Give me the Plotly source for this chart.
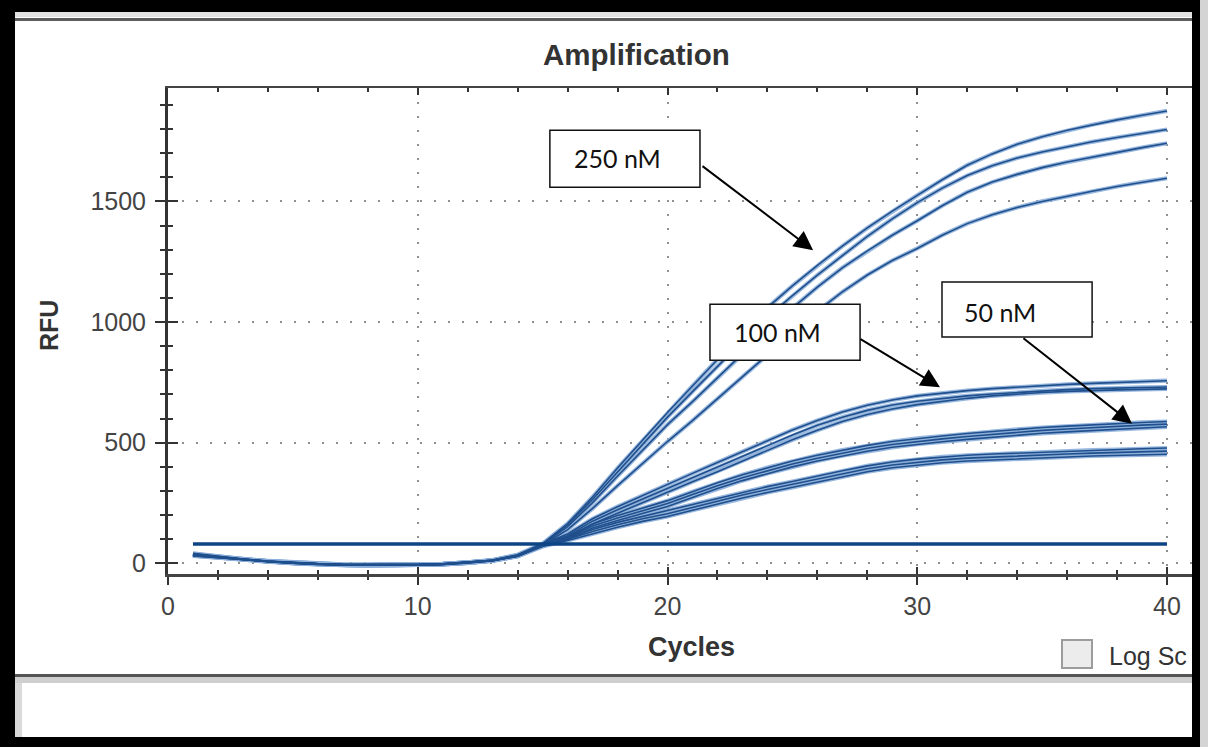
import plotly.graph_objects as go

# ---------------- data ----------------
cycles = list(range(1, 41))

rfu_250nM = [
    [38, 27, 17, 9, 3, -2, -5, -6, -6, -5, -2, 4, 14, 36, 82, 165, 275, 395, 510, 625,
     735, 845, 955, 1060, 1150, 1235, 1315, 1390, 1460, 1525, 1590, 1650, 1697, 1737, 1768, 1795, 1818, 1838, 1857, 1875],
    [35, 25, 15, 8, 2, -3, -6, -7, -7, -6, -3, 3, 13, 34, 80, 160, 265, 380, 494, 606,
     712, 818, 920, 1020, 1110, 1195, 1275, 1355, 1428, 1495, 1555, 1607, 1648, 1680, 1705, 1727, 1747, 1765, 1782, 1798],
    [42, 29, 18, 10, 4, -1, -4, -5, -5, -4, -2, 4, 13, 33, 78, 152, 252, 362, 470, 575,
     670, 770, 868, 965, 1058, 1145, 1225, 1295, 1360, 1420, 1482, 1538, 1580, 1612, 1640, 1663, 1684, 1705, 1723, 1741],
    [32, 24, 14, 7, 1, -4, -7, -8, -8, -7, -4, 2, 11, 30, 75, 140, 228, 322, 414, 505,
     592, 683, 775, 866, 955, 1045, 1125, 1195, 1255, 1305, 1360, 1408, 1445, 1475, 1500, 1522, 1542, 1562, 1580, 1596],
]
rfu_100nM = [
    [36, 26, 16, 8, 2, -3, -6, -7, -7, -6, -3, 3, 12, 33, 80, 122, 185, 235, 282, 328,
     373, 418, 462, 508, 553, 592, 627, 655, 677, 694, 706, 716, 724, 731, 737, 742, 746, 750, 754, 757],
    [40, 28, 17, 9, 3, -2, -5, -6, -6, -5, -2, 4, 13, 33, 78, 115, 175, 222, 266, 310,
     354, 398, 442, 488, 532, 572, 606, 634, 656, 672, 684, 694, 702, 709, 715, 720, 724, 727, 729, 731],
    [34, 24, 15, 7, 1, -4, -7, -8, -8, -7, -4, 2, 11, 31, 76, 108, 163, 208, 252, 295,
     338, 380, 424, 468, 512, 552, 588, 617, 640, 658, 672, 684, 694, 702, 708, 713, 717, 719, 721, 723],
]
rfu_50nM = [
    [37, 26, 16, 8, 2, -3, -6, -7, -7, -6, -3, 3, 12, 32, 78, 112, 163, 198, 229, 260,
     297, 334, 367, 397, 424, 448, 470, 489, 505, 518, 528, 538, 547, 555, 563, 569, 575, 580, 584, 588],
    [33, 24, 14, 7, 1, -4, -7, -8, -8, -7, -4, 2, 11, 30, 75, 105, 155, 188, 218, 248,
     285, 322, 355, 385, 412, 436, 458, 477, 493, 506, 516, 526, 535, 543, 551, 557, 563, 568, 573, 577],
    [39, 27, 17, 9, 3, -2, -5, -6, -6, -5, -2, 4, 13, 33, 73, 99, 147, 178, 207, 236,
     273, 310, 343, 373, 400, 424, 446, 465, 481, 494, 504, 514, 523, 531, 539, 545, 551, 556, 561, 566],
]
rfu_low = [
    [35, 25, 15, 8, 2, -3, -6, -7, -7, -6, -3, 3, 12, 32, 74, 105, 140, 170, 195, 217,
     244, 270, 295, 318, 339, 362, 384, 404, 420, 432, 441, 448, 453, 457, 461, 465, 469, 472, 475, 478],
    [38, 27, 16, 8, 2, -3, -6, -7, -7, -6, -3, 3, 12, 31, 72, 100, 132, 160, 185, 206,
     232, 258, 283, 306, 327, 350, 372, 392, 408, 420, 429, 436, 441, 445, 449, 453, 457, 460, 463, 465],
    [31, 23, 14, 7, 1, -4, -7, -8, -8, -7, -4, 2, 11, 30, 70, 95, 124, 150, 174, 194,
     220, 246, 271, 294, 315, 338, 360, 380, 396, 408, 417, 424, 429, 433, 437, 441, 445, 448, 450, 452],
]
threshold_rfu = 80

x_ticks = [0, 10, 20, 30, 40]
y_ticks = [0, 500, 1000, 1500]

labels = [
    # text, box (x0, x1, y0, y1), text x, text y, arrow from (ax, ay), arrow to (x, y)
    ("250 nM", (15.29, 21.30, 1559, 1795), 16.18, 1679, (21.34, 1651), (25.83, 1298)),
    ("100 nM", (21.70, 27.71, 842, 1074), 22.58, 958, (27.67, 933), (30.91, 730)),
    ("50 nM", (30.99, 37.00, 938, 1166), 31.79, 1041, (34.19, 938), (38.60, 579)),
]

# ---------------- geometry helpers (pixel -> paper) ----------------
W, H = 1208, 747
L, R, T, B = 168, 1192, 88, 574
def PX(px):
    return (px - L) / (R - L)
def PY(py):
    return (B - py) / (B - T)

fig = go.Figure()

halo = "rgba(140,175,218,0.9)"
core = "#1f4f8c"
for group in (rfu_250nM, rfu_100nM, rfu_50nM, rfu_low):
    for ys in group:
        fig.add_trace(go.Scatter(x=cycles, y=ys, mode="lines",
                                 line=dict(color=halo, width=4.2), hoverinfo="skip"))
for group in (rfu_250nM, rfu_100nM, rfu_50nM, rfu_low):
    for ys in group:
        fig.add_trace(go.Scatter(x=cycles, y=ys, mode="lines",
                                 line=dict(color=core, width=1.6)))

fig.add_trace(go.Scatter(x=[cycles[0], cycles[-1]], y=[threshold_rfu, threshold_rfu],
                         mode="lines", line=dict(color="#0d4486", width=3.5)))

grid = dict(showgrid=True, gridcolor="#8f8f8f", gridwidth=2, griddash="2px,12px")
axis_font = dict(family="Liberation Sans, Arial, sans-serif", size=25, color="#444444")

fig.update_layout(
    width=W, height=H,
    margin=dict(l=L, r=W - R, t=T, b=H - B),
    paper_bgcolor="white", plot_bgcolor="white",
    showlegend=False,
    xaxis=dict(range=[0, 41.0], tickvals=x_ticks, ticks="outside", ticklen=8, tickwidth=2,
               tickcolor="#333", showline=True, linecolor="#444", linewidth=3,
               zeroline=False, tickfont=axis_font, ticklabelstandoff=0,
               minor=dict(dtick=2, ticks="outside", ticklen=3, tickwidth=2, tickcolor="#333", showgrid=False),
               **grid),
    xaxis2=dict(range=[0, 41.0], overlaying="x", anchor="y", side="bottom",
                tickvals=x_ticks, ticks="inside", ticklen=7, tickwidth=2, tickcolor="#333",
                showticklabels=False, showline=True, linecolor="#444", linewidth=2,
                mirror="ticks", showgrid=False, zeroline=False,
                minor=dict(dtick=2, ticks="inside", ticklen=4, tickwidth=2, tickcolor="#333", showgrid=False)),
    yaxis=dict(range=[-44, 1970], tickvals=y_ticks, ticks="outside", ticklen=10, tickwidth=2,
               tickcolor="#333", showline=True, linecolor="#333", linewidth=3,
               zeroline=False, tickfont=axis_font, ticklabelstandoff=4,
               minor=dict(dtick=100, ticks="outside", ticklen=5, tickwidth=2, tickcolor="#333", showgrid=False),
               **grid),
    yaxis2=dict(range=[-44, 1970], overlaying="y", anchor="x", side="left",
                tickvals=y_ticks, ticks="inside", ticklen=10, tickwidth=2, tickcolor="#333",
                showticklabels=False, showline=False, showgrid=False, zeroline=False,
                minor=dict(dtick=100, ticks="inside", ticklen=5, tickwidth=2, tickcolor="#333", showgrid=False)),
)
# dummy trace to activate overlay axes
fig.add_trace(go.Scatter(x=[None], y=[None], xaxis="x2", yaxis="y2", showlegend=False))

shapes = []
annos = []

# label boxes and arrows
for text, (bx0, bx1, by0, by1), tx, ty, (ax, ay), (hx, hy) in labels:
    shapes.append(dict(type="rect", xref="x", yref="y", x0=bx0, x1=bx1, y0=by0, y1=by1,
                       line=dict(color="#111", width=1.5), fillcolor="white", layer="above"))
    annos.append(dict(text=text, x=tx, y=ty, xref="x", yref="y", xanchor="left", yanchor="middle",
                      showarrow=False, font=dict(family="Lato, Carlito, sans-serif", size=25, color="#111")))
    annos.append(dict(text="", x=hx, y=hy, ax=ax, ay=ay, xref="x", yref="y", axref="x", ayref="y",
                      showarrow=True, arrowhead=2, arrowsize=1.9, arrowwidth=2, arrowcolor="#000",
                      standoff=0, startstandoff=0))

# window frame
def prect(x0, x1, y0, y1, color, layer="above", line=None):
    d = dict(type="rect", xref="paper", yref="paper", x0=PX(x0), x1=PX(x1), y0=PY(y1), y1=PY(y0),
             fillcolor=color, line=dict(width=0), layer=layer)
    if line:
        d["line"] = line
    shapes.append(d)

prect(15, 1192, 12, 17, "#e2e2e2")
prect(15, 1192, 18, 21, "#5c5c5c")
prect(15, 1192, 674, 677, "#555555")
prect(15, 1192, 677, 683, "#cfcfcf")
prect(15, 1192, 683, 737, "#ffffff")
prect(15, 22, 683, 737, "#dadada")
prect(0, 15, 0, 747, "#000000")
prect(0, 1208, 0, 12, "#000000")
prect(1192, 1200, 0, 747, "#000000")
prect(1200, 1208, 0, 747, "#d4d4d4")
prect(0, 1200, 737, 747, "#000000")
# log-scale checkbox
shapes.append(dict(type="rect", xref="paper", yref="paper", x0=PX(1062), x1=PX(1092), y0=PY(668), y1=PY(640),
                   fillcolor="#ececec", line=dict(color="#9c9c9c", width=2), layer="above"))

txt = "#333333"
annos += [
    dict(text="<b>Amplification</b>", x=PX(636), y=PY(55), xref="paper", yref="paper",
         showarrow=False, xanchor="center", yanchor="middle",
         font=dict(family="Liberation Sans, Arial, sans-serif", size=29.5, color=txt)),
    dict(text="<b>RFU</b>", x=PX(49), y=PY(326), xref="paper", yref="paper", textangle=-90,
         showarrow=False, xanchor="center", yanchor="middle",
         font=dict(family="Liberation Sans, Arial, sans-serif", size=25, color=txt)),
    dict(text="<b>Cycles</b>", x=PX(691), y=PY(647), xref="paper", yref="paper",
         showarrow=False, xanchor="center", yanchor="middle",
         font=dict(family="Liberation Sans, Arial, sans-serif", size=27, color=txt)),
    dict(text="Log Sc", x=PX(1107), y=PY(656), xref="paper", yref="paper",
         showarrow=False, xanchor="left", yanchor="middle",
         font=dict(family="Liberation Sans, Arial, sans-serif", size=25, color=txt)),
]

fig.update_layout(shapes=shapes, annotations=annos)
fig.write_html("out.html", config={"displayModeBar": False},
               post_script="document.body.style.margin='0';document.body.style.overflow='hidden';")
